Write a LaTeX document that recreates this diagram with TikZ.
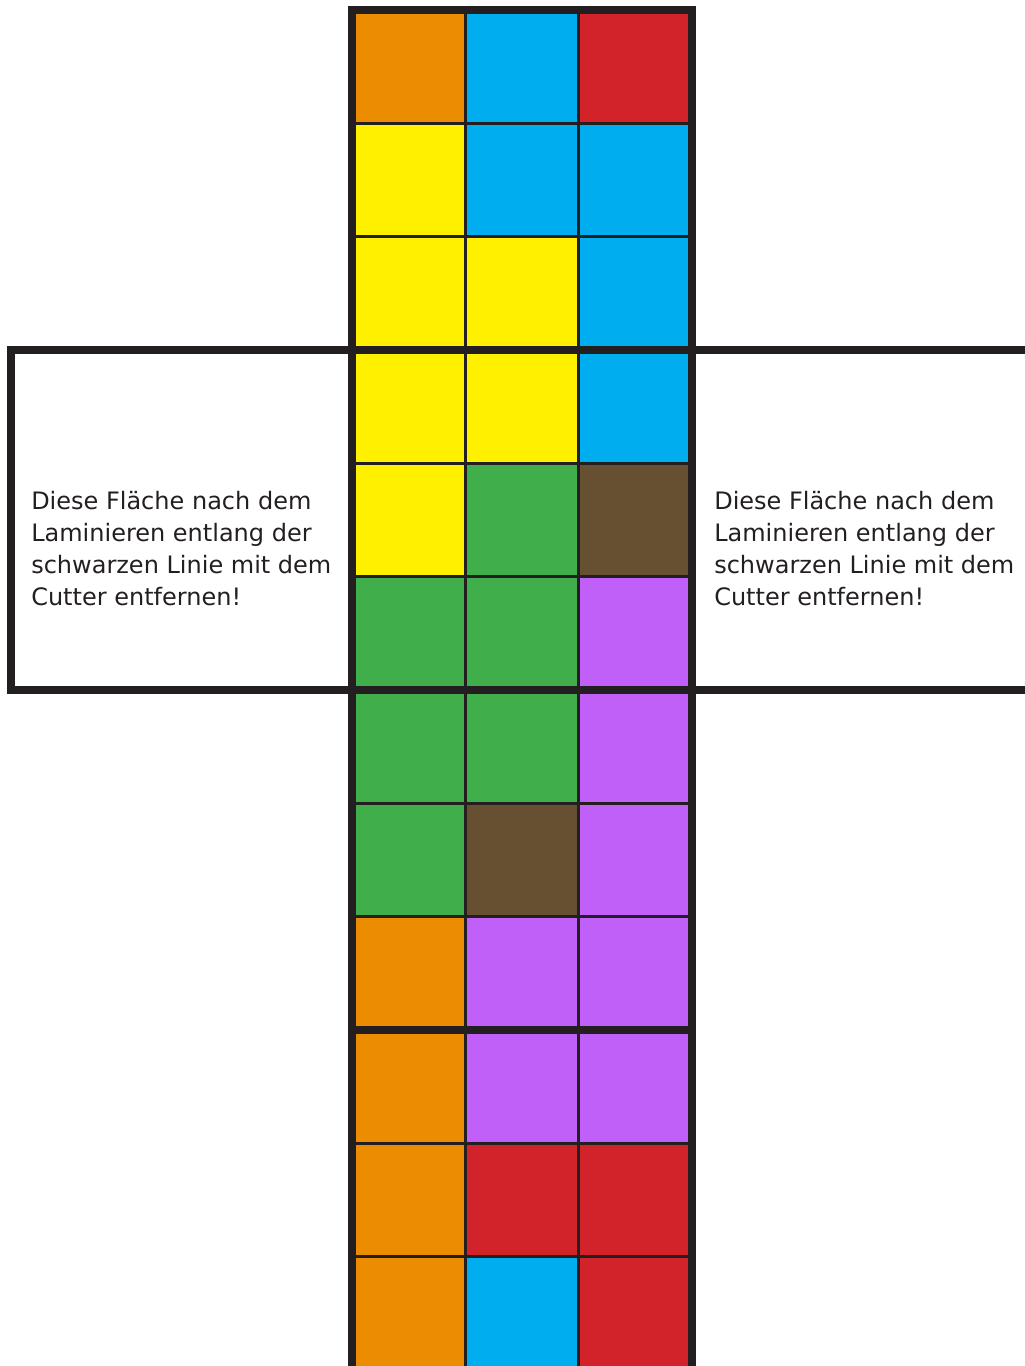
\documentclass[tikz,border=0pt]{standalone}
\usepackage{fontspec}
\setmainfont{DejaVu Sans}
\usepackage{xcolor}
\usepackage{tikz}
\usetikzlibrary{positioning}
\definecolor{cubO}{HTML}{EC8C00}
\definecolor{cubB}{HTML}{00AEEF}
\definecolor{cubR}{HTML}{D2232A}
\definecolor{cubY}{HTML}{FFF000}
\definecolor{cubG}{HTML}{40AE4B}
\definecolor{cubK}{HTML}{675032}
\definecolor{cubP}{HTML}{C060F8}
\definecolor{cubdark}{HTML}{231F20}
\tikzset{
  cell/.style={draw=none},
  thinline/.style={draw=cubdark,line width=2.25pt},
  cutline/.style={draw=cubdark,line width=6pt,line cap=rect},
  note/.style={align=left,anchor=west,inner sep=0pt,text=cubdark,font=\fontsize{18}{24}\selectfont},
}

\begin{document}
\begin{tikzpicture}[x=0.75pt,y=-0.75pt]
  \useasboundingbox (0,0) rectangle (1024,1366);
  % stickers, top to bottom
  \foreach \r/\a/\b/\c in {0/O/B/R,1/Y/B/B,2/Y/Y/B,3/Y/Y/B,4/Y/G/K,5/G/G/P,
                           6/G/G/P,7/G/K/P,8/O/P/P,9/O/P/P,10/O/R/R,11/O/B/R}{
    \fill[cell,fill=cub\a] (352,10+113.33*\r) rectangle ++(113.33,113.33);
    \fill[cell,fill=cub\b] (465.33,10+113.33*\r) rectangle ++(113.33,113.33);
    \fill[cell,fill=cub\c] (578.67,10+113.33*\r) rectangle ++(113.33,113.33);}
  \foreach \i in {1,2}
    \draw[thinline] (352+113.33*\i,10) -- (352+113.33*\i,1372);
  \foreach \r in {1,...,11}
    \draw[thinline] (352,10+113.33*\r) -- (692,10+113.33*\r);
  % cut lines
  \draw[cutline] (352,1372) -- (352,10) -- (692,10) -- (692,1372);
  \draw[cutline] (352,350) -- (692,350) (352,690) -- (692,690) (352,1030) -- (692,1030);
  \draw[cutline] (352,350) -- (11,350) -- (11,690) -- (352,690);
  \draw[cutline] (692,350) -- (1030,350) (692,690) -- (1030,690);
  \node[note] (noteL) at (31,549) {Diese Fläche nach dem\\Laminieren entlang der\\schwarzen Linie mit dem\\Cutter entfernen!};
  \node[note] (noteR) at (714,549) {Diese Fläche nach dem\\Laminieren entlang der\\schwarzen Linie mit dem\\Cutter entfernen!};
\end{tikzpicture}
\end{document}
